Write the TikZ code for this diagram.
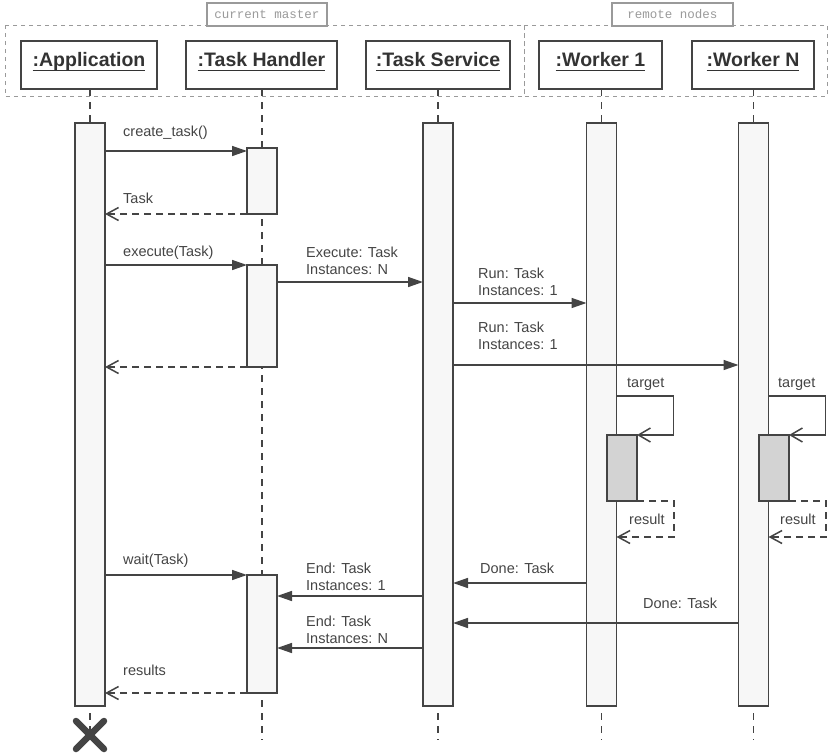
\documentclass[tikz,border=0pt]{standalone}
\usepackage{fontspec}
\setmainfont{Liberation Sans}
\newfontfamily\tagmono{Liberation Mono}
\usetikzlibrary{arrows.meta}

\definecolor{ink}{HTML}{444444}
\definecolor{headink}{HTML}{333333}
\definecolor{framegray}{HTML}{9A9A9A}
\definecolor{barfill}{HTML}{F7F7F7}
\definecolor{execfill}{HTML}{D3D3D3}

% two stacked label lines, baseline on the first one
\newcommand{\msgpair}[2]{\vtop{\hbox{#1}\hbox{#2}}}
% participant name with an underline at a fixed depth below the baseline
\newcommand{\headname}[1]{\setbox0=\hbox{#1}\rlap{\vrule height -3.6pt depth 5.1pt width \wd0}\box0}

\tikzset{
  head/.style={draw=ink, line width=1.5pt, fill=white, minimum height=48pt,
    inner sep=0pt, outer sep=0pt, text=headink, text height=13pt, text depth=11pt,
    font=\fontsize{19.5}{21}\selectfont\bfseries},
  bar/.style={draw=ink, line width=1.5pt, fill=barfill, minimum width=30pt,
    inner sep=0pt, outer sep=0pt, anchor=north},
  execbar/.style={bar, fill=execfill},
  lifeline/.style={draw=ink, line width=1.5pt, dash pattern=on 7pt off 6pt},
  call/.style={draw=ink, line width=1.5pt, -{Triangle[length=15pt,width=10pt]}},
  selfcall/.style={draw=ink, line width=1.5pt, -{Straight Barb[length=12pt,width=14pt]}},
  reply/.style={draw=ink, line width=1.5pt, dash pattern=on 7pt off 5pt,
    -{Straight Barb[length=12pt,width=13pt]}},
  msg/.style={anchor=base west, text=ink, inner sep=0pt,
    font=\fontsize{14.5}{17}\selectfont},
  frame/.style={draw=framegray, line width=1pt, dash pattern=on 4pt off 4pt},
  tag/.style={draw=framegray, line width=1.5pt, fill=white, text=framegray,
    minimum height=23pt, inner sep=0pt, font=\tagmono\fontsize{12.5}{14}\selectfont},
  endmark/.style={draw=ink, line width=6.5pt, line cap=round}
}

\begin{document}
\begin{tikzpicture}[x=1pt, y=-1pt]
\useasboundingbox (0,0) rectangle (828,755);

% deployment groups
\draw[frame] (5,25) rectangle (524,96);
\draw[frame] (524,25) rectangle (827,96);
\node[tag, minimum width=120pt] (master) at (267,14.5) {current master};
\node[tag, minimum width=121pt] (remote) at (672.5,14.5) {remote nodes};

% participants
\node[head, minimum width=136pt] (app) at (89,65)    {\headname{:Application}};
\node[head, minimum width=151pt] (th)  at (261.5,65) {\headname{:Task Handler}};
\node[head, minimum width=144pt] (ts)  at (438,65)   {\headname{:Task Service}};
\node[head, minimum width=123pt] (w1)  at (600.5,65) {\headname{:Worker 1}};
\node[head, minimum width=122pt] (wn)  at (753,65)   {\headname{:Worker N}};

% lifelines
\draw[lifeline] (app.south -| 90,0) -- (90,735);
\draw[lifeline] (th.south -| 262,0) -- (262,740);
\draw[lifeline] (ts.south -| 438,0) -- (438,740);
\draw[lifeline] (w1.south -| 601.5,0) -- (601.5,740);
\draw[lifeline] (wn.south -| 753.5,0) -- (753.5,740);

% activations
\node[bar, minimum height=583pt] (appbar) at (90,123) {};
\node[bar, minimum height=66pt]  (thbar1) at (262,148) {};
\node[bar, minimum height=102pt] (thbar2) at (262,265) {};
\node[bar, minimum height=118pt] (thbar3) at (262,575) {};
\node[bar, minimum height=583pt] (tsbar)  at (438,123) {};
\node[bar, minimum height=583pt] (w1bar)  at (601.5,123) {};
\node[bar, minimum height=583pt] (wnbar)  at (753.5,123) {};
\node[execbar, minimum height=66pt] (w1exec) at (622,435) {};
\node[execbar, minimum height=66pt] (wnexec) at (774,435) {};

% create the task
\draw[call] (appbar.east |- 0,151) -- (thbar1.west |- 0,151);
\node[msg] (lcreate) at (123,136) {create\_task()};
\draw[reply] (thbar1.south west) -- (appbar.east |- thbar1.south);
\node[msg] (ltask) at (123,203) {Task};

% execute
\draw[call] (appbar.east |- thbar2.north) -- (thbar2.north west);
\node[msg] (lexec) at (123,256) {execute(Task)};
\draw[call] (thbar2.east |- 0,282) -- (tsbar.west |- 0,282);
\node[msg] (lexecn) at (306,257) {\msgpair{Execute: Task}{Instances: N}};
\draw[call] (tsbar.east |- 0,303) -- (w1bar.west |- 0,303);
\node[msg] (lrun1) at (478,278) {\msgpair{Run: Task}{Instances: 1}};
\draw[call] (tsbar.east |- 0,365) -- (wnbar.west |- 0,365);
\node[msg] (lrunn) at (478,332) {\msgpair{Run: Task}{Instances: 1}};
\draw[reply] (thbar2.south west) -- (appbar.east |- thbar2.south);

% workers run the target
\draw[selfcall] (w1bar.east |- 0,396) -- ++(57,0) |- (w1exec.north east);
\node[msg] (ltarget1) at (627,387) {target};
\draw[reply] (w1exec.south east) -- ++(37,0) |- (w1bar.east |- 0,537);
\node[msg] (lresult1) at (629,524) {result};

\draw[selfcall] (wnbar.east |- 0,396) -- ++(57,0) |- (wnexec.north east);
\node[msg] (ltargetn) at (778,387) {target};
\draw[reply] (wnexec.south east) -- ++(37,0) |- (wnbar.east |- 0,537);
\node[msg] (lresultn) at (780,524) {result};

% wait and collect
\draw[call] (appbar.east |- thbar3.north) -- (thbar3.north west);
\node[msg] (lwait) at (123,564) {wait(Task)};
\draw[call] (w1bar.west |- 0,583) -- (tsbar.east |- 0,583);
\node[msg] (ldone1) at (480,573) {Done: Task};
\draw[call] (tsbar.west |- 0,596) -- (thbar3.east |- 0,596);
\node[msg] (lend1) at (306,573) {\msgpair{End: Task}{Instances: 1}};
\draw[call] (wnbar.west |- 0,623) -- (tsbar.east |- 0,623);
\node[msg] (ldonen) at (643,608) {Done: Task};
\draw[call] (tsbar.west |- 0,648) -- (thbar3.east |- 0,648);
\node[msg] (lendn) at (306,626) {\msgpair{End: Task}{Instances: N}};
\draw[reply] (thbar3.south west) -- (appbar.east |- thbar3.south);
\node[msg] (lresults) at (123,675) {results};

% destruction of the application
\draw[endmark] (76,721) -- (104,749) (104,721) -- (76,749);
\end{tikzpicture}
\end{document}
